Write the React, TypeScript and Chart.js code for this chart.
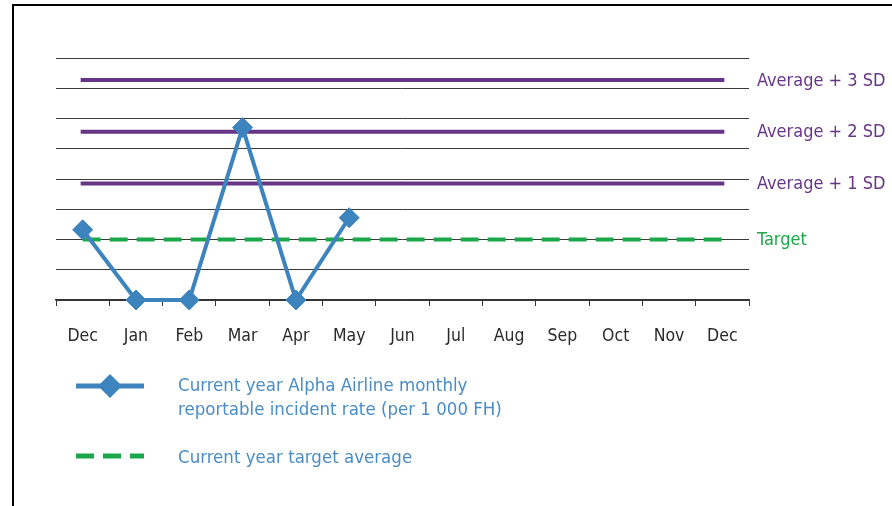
import React, { useEffect, useRef } from "react";
import { Chart, registerables } from "chart.js";

Chart.register(...registerables);

const months = ["Dec", "Jan", "Feb", "Mar", "Apr", "May", "Jun", "Jul", "Aug", "Sep", "Oct", "Nov", "Dec"];
const rateValues: (number | null)[] = [2.32, 0, 0, 5.7, 0, 2.72, null, null, null, null, null, null, null];
const targetValue = 2.0;
const sd1Value = 3.85;
const sd2Value = 5.56;
const sd3Value = 7.27;
const yMin = 0;
const yMax = 8;
const yStep = 1;

const refLabels = [
  { text: "Average + 3 SD", value: sd3Value, color: "#673585" },
  { text: "Average + 2 SD", value: sd2Value, color: "#673585" },
  { text: "Average + 1 SD", value: sd1Value, color: "#673585" },
  { text: "Target", value: targetValue, color: "#1ba84a" },
];
const legendRateLines = ["Current year Alpha Airline monthly", "reportable incident rate (per 1 000 FH)"];
const legendTargetText = "Current year target average";

const FONT = '"Liberation Sans Narrow", "Arial Narrow", "DejaVu Sans Condensed", sans-serif';
const BLUE = "#3d84bf";
const PURPLE = "#673585";
const GREEN = "#1ba84a";
const LEGEND_BLUE = "#4a8cc4";

const flat = (v: number) => months.map(() => v);

const decorPlugin = {
  id: "decor",
  beforeDraw(chart: any) {
    const ctx = chart.ctx;
    ctx.save();
    ctx.fillStyle = "#ffffff";
    ctx.fillRect(0, 0, chart.width, chart.height);
    ctx.strokeStyle = "#000000";
    ctx.lineWidth = 2;
    ctx.beginPath();
    ctx.moveTo(13, chart.height);
    ctx.lineTo(13, 5);
    ctx.lineTo(chart.width, 5);
    ctx.stroke();
    ctx.restore();
  },
  afterDraw(chart: any) {
    const ctx = chart.ctx;
    const y = chart.scales.y;
    const area = chart.chartArea;
    ctx.save();
    ctx.font = `18px ${FONT}`;
    ctx.textBaseline = "middle";
    ctx.textAlign = "left";
    for (const l of refLabels) {
      ctx.fillStyle = l.color;
      ctx.fillText(l.text, area.right + 8, y.getPixelForValue(l.value) + 1);
    }
    // legend
    ctx.font = `18.5px ${FONT}`;
    const lx0 = area.left + 20;
    const lx1 = area.left + 88;
    const ly1 = area.bottom + 86;
    ctx.strokeStyle = BLUE;
    ctx.lineWidth = 5;
    ctx.beginPath();
    ctx.moveTo(lx0, ly1);
    ctx.lineTo(lx1, ly1);
    ctx.stroke();
    const cx = (lx0 + lx1) / 2;
    const r = 12;
    ctx.fillStyle = BLUE;
    ctx.beginPath();
    ctx.moveTo(cx - r, ly1);
    ctx.lineTo(cx, ly1 - r);
    ctx.lineTo(cx + r, ly1);
    ctx.lineTo(cx, ly1 + r);
    ctx.closePath();
    ctx.fill();
    ctx.fillStyle = LEGEND_BLUE;
    ctx.fillText(legendRateLines[0], area.left + 122, ly1);
    ctx.fillText(legendRateLines[1], area.left + 122, ly1 + 24);
    const ly2 = area.bottom + 156;
    ctx.strokeStyle = GREEN;
    ctx.lineWidth = 5;
    ctx.setLineDash([18, 9]);
    ctx.beginPath();
    ctx.moveTo(lx0, ly2);
    ctx.lineTo(lx1, ly2);
    ctx.stroke();
    ctx.setLineDash([]);
    ctx.fillStyle = LEGEND_BLUE;
    ctx.fillText(legendTargetText, area.left + 122, ly2 + 2);
    ctx.restore();
  },
};

export default function App() {
  const ref = useRef<HTMLCanvasElement | null>(null);
  useEffect(() => {
    if (!ref.current) return;
    const chart = new Chart(ref.current, {
      type: "line",
      data: {
        labels: months,
        datasets: [
          {
            label: "Rate",
            data: rateValues,
            borderColor: BLUE,
            backgroundColor: BLUE,
            borderWidth: 4,
            pointStyle: "rectRot",
            pointRadius: 10,
            pointBorderWidth: 1,
            pointBackgroundColor: BLUE,
            pointBorderColor: BLUE,
            spanGaps: false,
            tension: 0,
            clip: false,
          },
          {
            label: "Target",
            data: flat(targetValue),
            borderColor: GREEN,
            borderWidth: 4,
            borderDash: [18, 9],
            pointRadius: 0,
            borderCapStyle: "butt",
          },
          { label: "SD1", data: flat(sd1Value), borderColor: PURPLE, borderWidth: 4, pointRadius: 0, borderCapStyle: "square" },
          { label: "SD2", data: flat(sd2Value), borderColor: PURPLE, borderWidth: 4, pointRadius: 0, borderCapStyle: "square" },
          { label: "SD3", data: flat(sd3Value), borderColor: PURPLE, borderWidth: 4, pointRadius: 0, borderCapStyle: "square" },
        ],
      },
      options: {
        responsive: false,
        animation: false,
        events: [],
        layout: { padding: { left: 56, right: 143, top: 58, bottom: 0 } },
        plugins: { legend: { display: false }, tooltip: { enabled: false } },
        scales: {
          x: {
            type: "category",
            offset: true,
            grid: { offset: true, drawOnChartArea: false, drawTicks: true, tickLength: 6, color: "#333333", lineWidth: 1 },
            border: { display: true, color: "#333333", width: 1.5 },
            ticks: { color: "#2a2a2a", font: { family: FONT, size: 17.5 }, padding: 20, maxRotation: 0, autoSkip: false },
            afterFit: (s: any) => {
              s.height = 206;
            },
          },
          y: {
            min: yMin,
            max: yMax,
            ticks: { display: false, stepSize: yStep },
            grid: { drawTicks: false, color: "#3a3a3a", lineWidth: 1 },
            border: { display: false },
            afterFit: (s: any) => {
              s.width = 0;
            },
          },
        },
      },
      plugins: [decorPlugin],
    } as any);
    return () => chart.destroy();
  }, []);
  return (
    <div style={{ position: "fixed", left: 0, top: 0, width: 892, height: 506 }}>
      <canvas ref={ref} width={892} height={506} />
    </div>
  );
}
